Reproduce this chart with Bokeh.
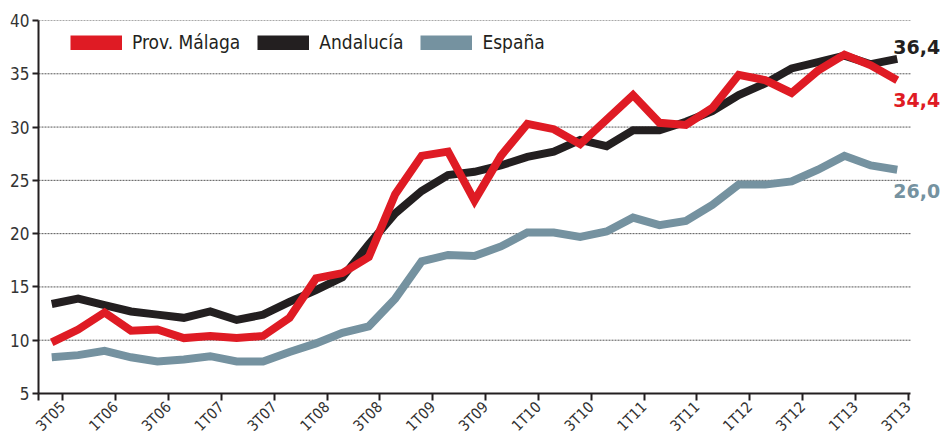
import math
from bokeh.plotting import figure
from bokeh.models import Legend, LegendItem, Label, FixedTicker
from bokeh.embed import file_html
from bokeh.resources import INLINE

quarters = ["3T05", "4T05",
            "1T06", "2T06", "3T06", "4T06",
            "1T07", "2T07", "3T07", "4T07",
            "1T08", "2T08", "3T08", "4T08",
            "1T09", "2T09", "3T09", "4T09",
            "1T10", "2T10", "3T10", "4T10",
            "1T11", "2T11", "3T11", "4T11",
            "1T12", "2T12", "3T12", "4T12",
            "1T13", "2T13", "3T13"]

malaga = [9.8, 11.0, 12.6, 10.9, 11.0, 10.2, 10.4, 10.2, 10.4, 12.1, 15.8, 16.3, 17.8,
          23.7, 27.3, 27.7, 23.1, 27.3, 30.3, 29.8, 28.4, 30.7, 33.0, 30.4, 30.2, 31.8,
          34.9, 34.4, 33.2, 35.3, 36.8, 35.8, 34.4]
andalucia = [13.4, 13.9, 13.3, 12.7, 12.4, 12.1, 12.7, 11.9, 12.4, 13.6, 14.7, 15.9, 19.0,
             21.9, 24.0, 25.5, 25.8, 26.4, 27.2, 27.7, 28.8, 28.2, 29.7, 29.7, 30.5, 31.5,
             33.0, 34.1, 35.5, 36.1, 36.7, 35.9, 36.4]
espana = [8.4, 8.6, 9.0, 8.4, 8.0, 8.2, 8.5, 8.0, 8.0, 8.9, 9.7, 10.7, 11.3,
          13.9, 17.4, 18.0, 17.9, 18.8, 20.1, 20.1, 19.7, 20.2, 21.5, 20.8, 21.2, 22.7,
          24.6, 24.6, 24.9, 26.0, 27.3, 26.4, 26.0]

series_names = ["Prov. Málaga", "Andalucía", "España"]
colors = ["#DF1B24", "#231F20", "#7592A0"]
y_ticks = [5, 10, 15, 20, 25, 30, 35, 40]

FONT = "DejaVu Sans Condensed"

n = len(quarters)
x = list(range(n))
x_lo, x_hi = -0.5, n - 0.5

p = figure(width=943, height=444, output_backend="svg", toolbar_location=None,
           x_range=(x_lo, n + 0.75), y_range=(5, 40),
           min_border_left=38, min_border_right=0, min_border_top=20, min_border_bottom=49)
p.outline_line_color = None
p.background_fill_color = "white"
p.border_fill_color = "white"

# dotted grid lines limited to the axis extent
grid_vals = [t for t in y_ticks if t > y_ticks[0]]
p.multi_line(xs=[[x_lo, x_hi] for _ in grid_vals], ys=[[t, t] for t in grid_vals],
             line_color="#555555", line_dash="2 1", line_width=1)

# lines (gray, black, red on top)
for vals, col in [(espana, colors[2]), (andalucia, colors[1]), (malaga, colors[0])]:
    p.line(x, vals, line_color=col, line_width=8, line_join="miter")

# legend proxies
proxies = []
for name, col in zip(series_names, colors):
    r = p.line([float("nan")], [float("nan")], line_color=col, line_width=15)
    proxies.append(LegendItem(label=name, renderers=[r]))
legend = Legend(items=proxies, orientation="horizontal", location=(32, 340),
                glyph_width=52, glyph_height=15, label_standoff=10, spacing=17,
                padding=0, margin=0, border_line_color=None, background_fill_alpha=0,
                label_text_font=FONT, label_text_font_size="19px",
                label_text_color="#231F20")
p.add_layout(legend, "center")

# axes
tick_pos = [x_lo] + [i + 0.42 for i in range(0, n, 2)]
overrides = {x_lo: ""}
for i in range(0, n, 2):
    overrides[i + 0.42] = quarters[i]
p.xaxis.bounds = (x_lo, x_hi)
p.xaxis.ticker = FixedTicker(ticks=tick_pos)
p.xaxis.major_label_overrides = overrides
p.xaxis.major_label_orientation = math.pi / 4
p.xaxis.minor_tick_line_color = None
p.xaxis.major_tick_out = 7
p.xaxis.major_tick_in = 0
p.xaxis.major_label_standoff = 4
p.xaxis.major_label_text_font = FONT
p.xaxis.major_label_text_font_size = "15px"
p.xaxis.major_label_text_color = "#333333"

p.yaxis.ticker = FixedTicker(ticks=y_ticks)
p.yaxis.minor_tick_line_color = None
p.yaxis.major_tick_out = 6
p.yaxis.major_tick_in = 0
p.yaxis.major_label_standoff = 3
p.yaxis.major_label_text_font = FONT
p.yaxis.major_label_text_font_size = "17px"
p.yaxis.major_label_text_color = "#333333"

for ax in (p.xaxis, p.yaxis):
    ax.axis_line_color = "#231F20"
    ax.axis_line_width = 2
    ax.major_tick_line_color = "#231F20"
    ax.major_tick_line_width = 2

p.xgrid.grid_line_color = None
p.ygrid.grid_line_color = None

# end labels
last = n - 1
for vals, col, yoff in [(andalucia, colors[1], 12), (malaga, colors[0], -20), (espana, colors[2], -21)]:
    txt = f"{vals[-1]:.1f}".replace(".", ",")
    p.add_layout(Label(x=last, y=vals[-1], text=txt, x_offset=-4, y_offset=yoff,
                       text_align="left", text_baseline="middle",
                       text_font="DejaVu Sans", text_font_style="bold",
                       text_font_size="19px", text_color=col))

open("out.html", "w").write(file_html(p, INLINE))
